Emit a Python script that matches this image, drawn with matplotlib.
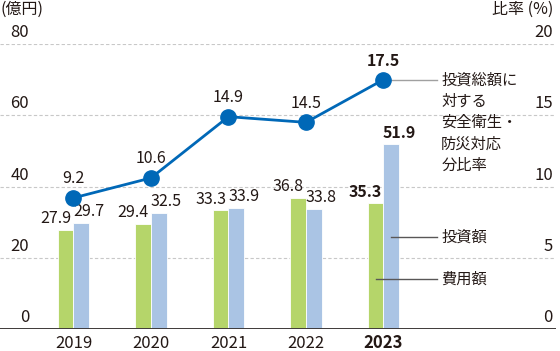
import numpy as np
import matplotlib.pyplot as plt
import matplotlib.transforms as mtransforms

plt.rcParams['font.family'] = ['Noto Sans CJK JP', 'DejaVu Sans']

years = ['2019', '2020', '2021', '2022', '2023']
cost = [27.9, 29.4, 33.3, 36.8, 35.3]      # 費用額 (green)
invest = [29.7, 32.5, 33.9, 33.8, 51.9]    # 投資額 (blue)
ratio = [9.2, 10.6, 14.9, 14.5, 17.5]      # 比率 (%)
left_ticks = [0, 20, 40, 60, 80]
right_ticks = [0, 5, 10, 15, 20]

green = '#b5d56a'
lblue = '#aac4e4'
dblue = '#0068b7'
txt = '#231815'

W, H = 560, 351
fig = plt.figure(figsize=(W / 100, H / 100), dpi=100)
ax = fig.add_axes([0, 22 / H, 556 / W, (329 - 44) / H])
ax2 = ax.twinx()

x = np.arange(len(years))
w = 0.205
ax.bar(x - w / 2, cost, w, color=green, edgecolor='white', linewidth=0.6, zorder=2)
ax.bar(x + w / 2, invest, w, color=lblue, edgecolor='white', linewidth=0.6, zorder=2)

ax.set_xlim(-0.948, 6.226)
ax.set_ylim(0, 80)
ax2.set_ylim(0, 20)
for a in (ax, ax2):
    a.set_xticks([])
    a.set_yticks([])
    for s in a.spines.values():
        s.set_visible(False)
ax.axhline(0, color='#3e3a39', lw=1.4, zorder=3)
for t in left_ticks[1:]:
    ax.axhline(t, color='#c8c8c8', lw=0.8, ls=(0, (3, 2)), zorder=1)

# tick labels above the gridlines
lt = mtransforms.blended_transform_factory(fig.transFigure, ax.transData)
off = mtransforms.offset_copy(lt, fig=fig, y=3, units='dots')
for t in left_ticks:
    fig.text(29 / W, t, str(t), transform=off, ha='right', va='bottom', fontsize=12, color=txt)
rt = mtransforms.blended_transform_factory(fig.transFigure, ax2.transData)
roff = mtransforms.offset_copy(rt, fig=fig, y=3, units='dots')
for t in right_ticks:
    fig.text(553 / W, t, str(t), transform=roff, ha='right', va='bottom', fontsize=12, color=txt)
fig.text(0, 1 - 1 / H, '(億円)', ha='left', va='top', fontsize=11.5, color=txt)
fig.text(553 / W, 1 - 1 / H, '比率 (%)', ha='right', va='top', fontsize=11.5, color=txt)

# year labels
for i, y in enumerate(years):
    bold = i == len(years) - 1
    ax.text(x[i], -5.2, y, ha='center', va='baseline', fontsize=12, color=txt,
            fontweight='bold' if bold else 'normal')

# bar value labels
for i in range(len(years)):
    bold = i == len(years) - 1
    fw = 'bold' if bold else 'normal'
    ax.text(x[i] - 0.23, cost[i] + 0.8, f'{cost[i]:.1f}', ha='center', va='bottom',
            fontsize=11.5, color=txt, fontweight=fw)
    ax.text(x[i] + 0.2, invest[i] + 0.8, f'{invest[i]:.1f}', ha='center', va='bottom',
            fontsize=11.5, color=txt, fontweight=fw)

# ratio line
ax2.plot(x, ratio, color=dblue, lw=2, marker='o', ms=11, zorder=5)
for i in range(len(years)):
    bold = i == len(years) - 1
    ax2.text(x[i], ratio[i] + 0.75, f'{ratio[i]:.1f}', ha='center', va='bottom',
             fontsize=11.5, color=txt, fontweight='bold' if bold else 'normal')

# leader lines and labels
xe = 4.69   # end of leader lines
xt = 4.745  # start of labels
ax2.plot([x[-1], xe], [ratio[-1], ratio[-1]], color='#a0a0a0', lw=1, zorder=4)
ax2.text(xt, 18.05, '投資総額に\n対する\n安全衛生・\n防災対応\n分比率',
         fontsize=11, color=txt, va='top', ha='left', linespacing=1.32)
ax.plot([x[-1] + w / 2, xe], [25.8, 25.8], color='#595757', lw=1, zorder=4)
ax.text(xt, 25.8, '投資額', fontsize=11, color=txt, va='center', ha='left')
ax.plot([x[-1] - w / 2, xe], [14.0, 14.0], color='#595757', lw=1, zorder=4)
ax.text(xt, 14.0, '費用額', fontsize=11, color=txt, va='center', ha='left')

plt.savefig('out.png', dpi=100)
